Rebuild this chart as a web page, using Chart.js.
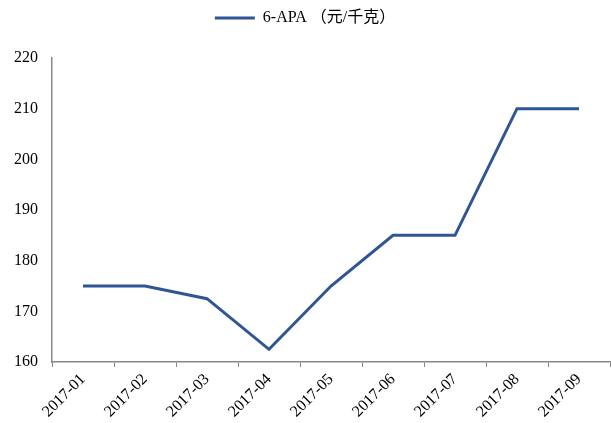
<!DOCTYPE html>
<html>
<head>
<meta charset="utf-8">
<script src="https://cdn.jsdelivr.net/npm/chart.js@4"></script>
<style>
    html, body { margin: 0; padding: 0; background: #fff; }
    #wrap { width: 611px; height: 423px; }
</style>
</head>
<body>
<div id="wrap"><canvas id="priceChart"></canvas></div>
<script>
/* ---------------- Data ---------------- */

const months = ["2017-01", "2017-02", "2017-03", "2017-04", "2017-05",
                "2017-06", "2017-07", "2017-08", "2017-09"];
const prices = [175, 175, 172.5, 162.5, 175, 185, 185, 210, 210];
const seriesName = "6-APA （元/千克）";
const yTicks = [160, 170, 180, 190, 200, 210, 220];

/* ---------------- Chart ---------------- */

const lineColor = "#2F5597";
const serif = "'Liberation Serif', 'Times New Roman', 'Noto Sans CJK SC', serif";

// extra room under the legend
const legendGap = {
    id: "legendGap",
    beforeInit(chart) {
        const fit = chart.legend.fit;
        chart.legend.fit = function () {
            fit.bind(chart.legend)();
            this.height += 22;
        };
    }
};

new Chart(document.getElementById("priceChart"), {
    type: "line",
    data: {
        labels: months,
        datasets: [
            {
                label: seriesName,
                data: prices,
                borderColor: lineColor,
                backgroundColor: lineColor,
                borderWidth: 3,
                pointRadius: 0,
                tension: 0
            }
        ]
    },
    plugins: [legendGap],
    options: {
        responsive: true,
        maintainAspectRatio: false,
        animation: false,
        layout: { padding: { top: 0, right: 1, left: 0, bottom: 0 } },
        plugins: {
            legend: {
                position: "top",
                labels: {
                    boxWidth: 40,
                    boxHeight: 0,
                    padding: 10,
                    color: "#000",
                    font: { family: serif, size: 16 }
                }
            },
            tooltip: { enabled: false }
        },
        scales: {
            x: {
                offset: true,
                grid: {
                    display: true,
                    offset: true,
                    drawOnChartArea: false,
                    drawTicks: true,
                    tickLength: 5,
                    color: "#888"
                },
                border: { color: "#888", width: 1.5 },
                ticks: {
                    minRotation: 45,
                    maxRotation: 45,
                    color: "#000",
                    font: { family: serif, size: 16 }
                },
                afterFit: function (axis) { axis.height = 61; }
            },
            y: {
                min: yTicks[0],
                max: yTicks[yTicks.length - 1],
                grid: { display: false },
                border: { color: "#888", width: 1.5 },
                ticks: {
                    stepSize: 10,
                    padding: 6,
                    color: "#000",
                    font: { family: serif, size: 16 }
                },
                afterFit: function (axis) { axis.width = 52; }
            }
        }
    }
});
</script>
</body>
</html>
